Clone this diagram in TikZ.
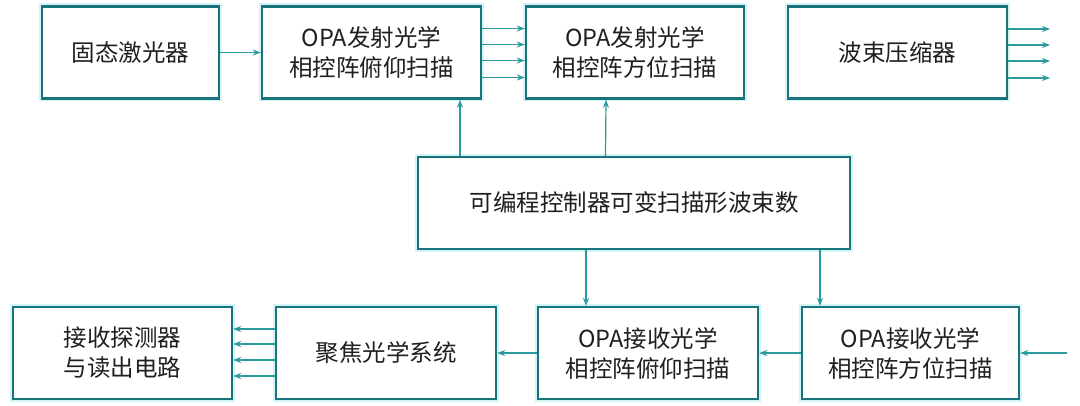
\documentclass[tikz,border=0pt]{standalone}
\usepackage{fontspec}
\newfontfamily\cjk{Noto Sans CJK SC}
\usetikzlibrary{arrows.meta}
\definecolor{boxc}{HTML}{18737A}
\definecolor{arrc}{HTML}{2A9A9E}
\definecolor{glowc}{HTML}{D2F4F6}
\begin{document}
\begin{tikzpicture}[x=1pt,y=-1pt,
  blk/.style={draw=boxc, line width=2.4pt, fill=white,
    preaction={draw=glowc, line width=6pt},
    font=\cjk\fontsize{23.5}{30}\selectfont, align=center, text=black!88,
    inner sep=0pt, minimum height=92pt},
  arr/.style={draw=arrc, line width=1.2pt, -{Stealth[length=8pt,width=6pt]}},
]
\useasboundingbox[fill=white] (0,0) rectangle (1080,406);

\node[blk, minimum width=177pt] (b1) at (130.5,52.5) {固态激光器};
\node[blk, minimum width=219pt] (b2) at (371.5,52.5) {OPA发射光学\\相控阵俯仰扫描};
\node[blk, minimum width=218pt] (b3) at (635,52.5) {OPA发射光学\\相控阵方位扫描};
\node[blk, minimum width=219pt] (b4) at (897.5,52.5) {波束压缩器};
\node[blk, minimum width=432pt] (m) at (634,203) {可编程控制器可变扫描形波束数};
\node[blk, minimum width=219pt] (b5) at (122.5,353) {接收探测器\\与读出电路};
\node[blk, minimum width=220pt] (b6) at (386,353) {聚焦光学系统};
\node[blk, minimum width=220pt] (b7) at (648,353) {OPA接收光学\\相控阵俯仰扫描};
\node[blk, minimum width=217pt] (b8) at (910.5,353) {OPA接收光学\\相控阵方位扫描};

\coordinate (o1) at (1050,29);
\coordinate (o2) at (1050,45);
\coordinate (o3) at (1050,61);
\coordinate (o4) at (1050,78);
\coordinate (inp) at (1067,353);

% top row
\draw[arr] (b1.east) -- (b2.west);
\foreach \dy in {24,8,-8,-25}{
  \draw[arr] ([yshift=\dy pt]b2.east) -- ([yshift=\dy pt]b3.west);
}
\foreach \i in {1,...,4}{
  \draw[arr] (b4.east |- o\i) -- (o\i);
}
% controller
\draw[arr] ([xshift=-174pt]m.north) -- ([xshift=88.5pt]b2.south);
\draw[arr] ([xshift=-28.5pt]m.north) -- ([xshift=-29pt]b3.south);
\draw[arr] ([xshift=-48pt]m.south) -- ([xshift=-62pt]b7.north);
\draw[arr] ([xshift=186pt]m.south) -- ([xshift=-90.5pt]b8.north);
% bottom row
\draw[arr] (inp) -- (b8.east);
\draw[arr] (b8.west) -- (b7.east);
\draw[arr] (b7.west) -- (b6.east);
\foreach \dy in {24,9,-7,-23}{
  \draw[arr] ([yshift=\dy pt]b6.west) -- ([yshift=\dy pt]b5.east);
}
\end{tikzpicture}
\end{document}
